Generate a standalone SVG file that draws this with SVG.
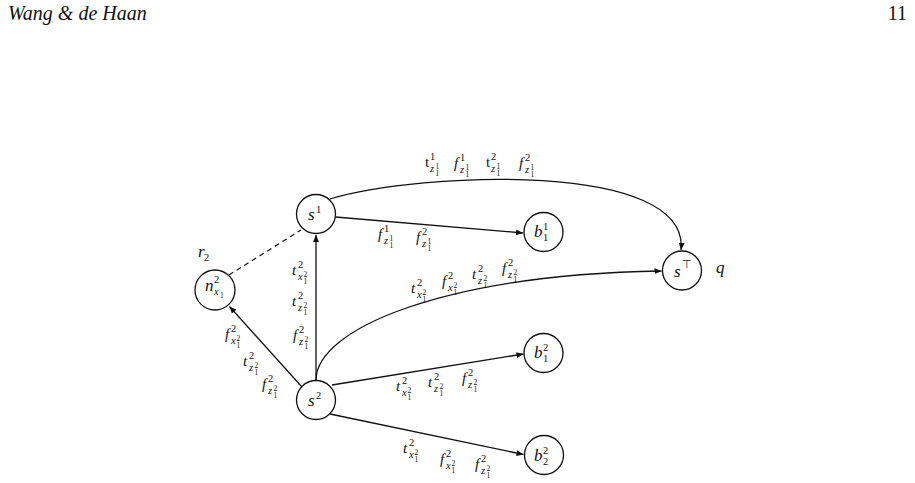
<svg xmlns="http://www.w3.org/2000/svg" width="915" height="483" viewBox="0 0 915 483">
<style>
.hd{font-family:"Liberation Serif","Times New Roman",serif;font-size:20px;fill:#111}
.m{font-family:"Liberation Serif","Times New Roman",serif;font-style:italic;font-size:15px;fill:#111}
.nl{font-family:"Liberation Serif","Times New Roman",serif;font-style:italic;font-size:17px;fill:#111}
.up{font-style:normal}
.s{font-size:10.5px}
.sd{font-size:10.5px;font-style:normal}
.ss{font-size:7.5px;font-style:normal}
.nd{fill:#fff;stroke:#111;stroke-width:1.3}
.e{fill:none;stroke:#111;stroke-width:1.3}
.d{fill:none;stroke:#111;stroke-width:1.2;stroke-dasharray:5 4}
</style>
<defs>
<marker id="ah" markerWidth="8" markerHeight="6" refX="7" refY="3" orient="auto" markerUnits="userSpaceOnUse">
<path d="M0,0 L7,3 L0,6 Z" fill="#111"/>
</marker>
</defs>
<rect width="915" height="483" fill="#fff"/>
<text class="hd" x="8" y="20" font-style="italic">Wang &amp; de Haan</text>
<text class="hd" x="907" y="20" text-anchor="end">11</text>

<g id="connectors">
<path class="e" d="M330,199 C420,172 690,160 681,250" marker-end="url(#ah)"/>
<path class="e" d="M335.5,217 L523,233" marker-end="url(#ah)"/>
<path class="d" d="M229,275 L301,230"/>
<path class="e" d="M316,380 L316,235" marker-end="url(#ah)"/>
<path class="e" d="M302,387 L229.5,306.5" marker-end="url(#ah)"/>
<path class="e" d="M316,380 C316,330 440,275 661.5,271" marker-end="url(#ah)"/>
<path class="e" d="M332,385 L523.5,354" marker-end="url(#ah)"/>
<path class="e" d="M330,414 L523.5,454.5" marker-end="url(#ah)"/>
</g>

<g id="edge-labels">
<text class="m"><tspan class="up" x="425" y="167">t</tspan><tspan class="sd" x="430" y="160">1</tspan><tspan class="s" x="430" y="172">z</tspan><tspan class="ss" x="435.5" y="168.5">1</tspan><tspan class="ss" x="435.5" y="176">1</tspan></text>
<text class="m"><tspan x="454" y="168">f</tspan><tspan class="sd" x="460" y="161">1</tspan><tspan class="s" x="460" y="173">z</tspan><tspan class="ss" x="465.5" y="169.5">1</tspan><tspan class="ss" x="465.5" y="177">1</tspan></text>
<text class="m"><tspan class="up" x="486" y="167">t</tspan><tspan class="sd" x="491" y="160">2</tspan><tspan class="s" x="491" y="172">z</tspan><tspan class="ss" x="496.5" y="168.5">1</tspan><tspan class="ss" x="496.5" y="176">1</tspan></text>
<text class="m"><tspan x="519" y="168">f</tspan><tspan class="sd" x="525" y="161">2</tspan><tspan class="s" x="525" y="173">z</tspan><tspan class="ss" x="530.5" y="169.5">1</tspan><tspan class="ss" x="530.5" y="177">1</tspan></text>

<text class="m"><tspan x="378" y="239">f</tspan><tspan class="sd" x="384" y="232">1</tspan><tspan class="s" x="384" y="244">z</tspan><tspan class="ss" x="389.5" y="240.5">1</tspan><tspan class="ss" x="389.5" y="248">1</tspan></text>
<text class="m"><tspan x="416" y="242">f</tspan><tspan class="sd" x="422" y="235">2</tspan><tspan class="s" x="422" y="247">z</tspan><tspan class="ss" x="427.5" y="243.5">1</tspan><tspan class="ss" x="427.5" y="251">1</tspan></text>

<text class="m"><tspan x="292" y="275">t</tspan><tspan class="sd" x="298" y="268">2</tspan><tspan class="s" x="298" y="280">x</tspan><tspan class="ss" x="303.5" y="276.5">2</tspan><tspan class="ss" x="303.5" y="284">1</tspan></text>
<text class="m"><tspan x="292" y="306">t</tspan><tspan class="sd" x="298" y="299">2</tspan><tspan class="s" x="298" y="311">z</tspan><tspan class="ss" x="303.5" y="307.5">2</tspan><tspan class="ss" x="303.5" y="315">1</tspan></text>
<text class="m"><tspan x="293" y="340">f</tspan><tspan class="sd" x="299" y="333">2</tspan><tspan class="s" x="299" y="345">z</tspan><tspan class="ss" x="304.5" y="341.5">2</tspan><tspan class="ss" x="304.5" y="349">1</tspan></text>

<text class="m"><tspan x="225" y="339">f</tspan><tspan class="sd" x="231" y="332">2</tspan><tspan class="s" x="231" y="344">x</tspan><tspan class="ss" x="236.5" y="340.5">2</tspan><tspan class="ss" x="236.5" y="348">1</tspan></text>
<text class="m"><tspan x="243" y="366">t</tspan><tspan class="sd" x="249" y="359">2</tspan><tspan class="s" x="249" y="371">z</tspan><tspan class="ss" x="254.5" y="367.5">2</tspan><tspan class="ss" x="254.5" y="375">1</tspan></text>
<text class="m"><tspan x="262" y="389">f</tspan><tspan class="sd" x="268" y="382">2</tspan><tspan class="s" x="268" y="394">z</tspan><tspan class="ss" x="273.5" y="390.5">2</tspan><tspan class="ss" x="273.5" y="398">1</tspan></text>

<text class="m"><tspan x="411" y="293">t</tspan><tspan class="sd" x="417" y="286">2</tspan><tspan class="s" x="417" y="298">x</tspan><tspan class="ss" x="422.5" y="294.5">2</tspan><tspan class="ss" x="422.5" y="302">1</tspan></text>
<text class="m"><tspan x="442" y="286">f</tspan><tspan class="sd" x="448" y="279">2</tspan><tspan class="s" x="448" y="291">x</tspan><tspan class="ss" x="453.5" y="287.5">2</tspan><tspan class="ss" x="453.5" y="295">1</tspan></text>
<text class="m"><tspan x="472" y="279">t</tspan><tspan class="sd" x="478" y="272">2</tspan><tspan class="s" x="478" y="284">z</tspan><tspan class="ss" x="483.5" y="280.5">2</tspan><tspan class="ss" x="483.5" y="288">1</tspan></text>
<text class="m"><tspan x="502" y="273">f</tspan><tspan class="sd" x="508" y="266">2</tspan><tspan class="s" x="508" y="278">z</tspan><tspan class="ss" x="513.5" y="274.5">2</tspan><tspan class="ss" x="513.5" y="282">1</tspan></text>

<text class="m"><tspan x="396" y="391">t</tspan><tspan class="sd" x="402" y="384">2</tspan><tspan class="s" x="402" y="396">x</tspan><tspan class="ss" x="407.5" y="392.5">2</tspan><tspan class="ss" x="407.5" y="400">1</tspan></text>
<text class="m"><tspan x="428" y="387">t</tspan><tspan class="sd" x="434" y="380">2</tspan><tspan class="s" x="434" y="392">z</tspan><tspan class="ss" x="439.5" y="388.5">2</tspan><tspan class="ss" x="439.5" y="396">1</tspan></text>
<text class="m"><tspan x="462" y="383">f</tspan><tspan class="sd" x="468" y="376">2</tspan><tspan class="s" x="468" y="388">z</tspan><tspan class="ss" x="473.5" y="384.5">2</tspan><tspan class="ss" x="473.5" y="392">1</tspan></text>

<text class="m"><tspan x="403" y="453">t</tspan><tspan class="sd" x="409" y="446">2</tspan><tspan class="s" x="409" y="458">x</tspan><tspan class="ss" x="414.5" y="454.5">2</tspan><tspan class="ss" x="414.5" y="462">1</tspan></text>
<text class="m"><tspan x="440" y="464">f</tspan><tspan class="sd" x="446" y="457">2</tspan><tspan class="s" x="446" y="469">x</tspan><tspan class="ss" x="451.5" y="465.5">2</tspan><tspan class="ss" x="451.5" y="473">1</tspan></text>
<text class="m"><tspan x="475" y="469">f</tspan><tspan class="sd" x="481" y="462">2</tspan><tspan class="s" x="481" y="474">z</tspan><tspan class="ss" x="486.5" y="470.5">2</tspan><tspan class="ss" x="486.5" y="478">1</tspan></text>
</g>

<g id="node-s1">
<circle class="nd" cx="316" cy="214" r="19.5"/>
<text class="nl"><tspan x="308" y="220">s</tspan><tspan class="sd" x="316" y="213">1</tspan></text>
</g>
<g id="node-n">
<circle class="nd" cx="215" cy="290" r="20"/>
<text class="nl"><tspan x="205" y="291">n</tspan><tspan class="sd" x="214" y="283">2</tspan><tspan class="s" x="214" y="295">x</tspan><tspan class="ss" x="220" y="298">1</tspan></text>
<text class="nl"><tspan x="198" y="257">r</tspan><tspan class="sd" x="204" y="261">2</tspan></text>
</g>
<g id="node-s2">
<circle class="nd" cx="316" cy="400" r="19.5"/>
<text class="nl"><tspan x="308" y="406">s</tspan><tspan class="sd" x="316" y="399">2</tspan></text>
</g>
<g id="node-b11">
<circle class="nd" cx="543.5" cy="232" r="19.5"/>
<text class="nl"><tspan x="534" y="237">b</tspan><tspan class="sd" x="543" y="230">1</tspan><tspan class="sd" x="543" y="241">1</tspan></text>
</g>
<g id="node-b12">
<circle class="nd" cx="543.5" cy="353" r="19.5"/>
<text class="nl"><tspan x="534" y="358">b</tspan><tspan class="sd" x="543" y="351">2</tspan><tspan class="sd" x="543" y="362">1</tspan></text>
</g>
<g id="node-b22">
<circle class="nd" cx="544" cy="455" r="19.5"/>
<text class="nl"><tspan x="534" y="461">b</tspan><tspan class="sd" x="543" y="454">2</tspan><tspan class="sd" x="543" y="465">2</tspan></text>
</g>
<g id="node-sT">
<circle class="nd" cx="682" cy="270.5" r="19.5"/>
<text class="nl"><tspan x="674" y="277">s</tspan><tspan class="sd" x="682" y="268" font-family="Liberation Sans, sans-serif">⊤</tspan></text>
<text class="nl" x="716" y="273">q</text>
</g>
</svg>
